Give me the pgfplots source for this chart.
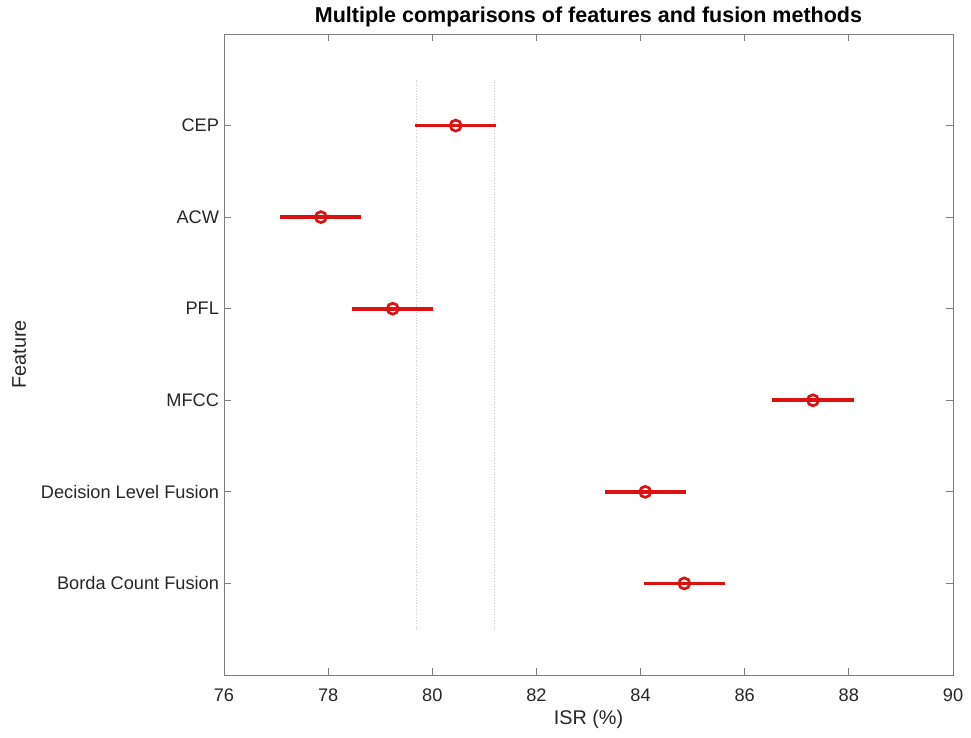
\documentclass[border=0pt]{standalone}
\usepackage{pgfplots}
\pgfplotsset{compat=1.18}
\usepackage{pgfplotstable}
\usepackage{fontspec}
\setmainfont{Liberation Sans}
\definecolor{mred}{RGB}{220,18,18}
\definecolor{axgray}{RGB}{38,38,38}
\definecolor{frame}{RGB}{125,125,125}
\pgfplotstableread{
x y e
84.84 1 0.78
84.09 2 0.78
87.31 3 0.78
79.24 4 0.78
77.86 5 0.78
80.45 6 0.78
}\groups
\begin{document}
\begin{tikzpicture}
\begin{axis}[
  scale only axis, width=729pt, height=641pt,
  at={(0pt,0pt)}, anchor=south west,
  xmin=76, xmax=90, ymin=0, ymax=7,
  xtick={76,78,...,90},
  ytick={1,...,6},
  yticklabels={Borda Count Fusion, Decision Level Fusion, MFCC, PFL, ACW, CEP},
  tick align=inside, major tick length=7pt,
  axis line style={draw=frame, line width=0.8pt},
  tick style={draw=frame, line width=0.8pt},
  /pgf/number format/assume math mode=true,
  ticklabel style={font=\fontsize{18.2}{20}\selectfont, text=axgray},
  xticklabel style={anchor=base, yshift=-27pt},
  yticklabel style={anchor=east, xshift=-1.5pt},
  title={\textbf{Multiple comparisons of features and fusion methods}},
  title style={at={(axis description cs:0.5,1)}, anchor=base, yshift=5pt, font=\fontsize{21.5}{23}\selectfont, text=black},
  xlabel={ISR (\%)},
  every axis x label/.style={at={(axis description cs:0.5,0)}, anchor=base, yshift=-49pt, font=\fontsize{19.8}{22}\selectfont, text=axgray},
  ylabel={Feature},
  every axis y label/.style={at={(axis description cs:0,0.5)}, xshift=-198pt, rotate=90, anchor=base, font=\fontsize{19.8}{22}\selectfont, text=axgray},
  clip=false,
]
\addplot[gray!45, dotted, line width=0.8pt] coordinates {(79.69,0.5) (79.69,6.5)};
\addplot[gray!45, dotted, line width=0.8pt] coordinates {(81.20,0.5) (81.20,6.5)};
\addplot[only marks, mark=o, mark size=5.5pt, mark options={draw=mred, line width=2.7pt},
  error bars/.cd, x dir=both, x explicit, error mark=none,
  error bar style={draw=mred, line width=3.8pt}]
  table[x=x, y=y, x error=e] {\groups};
\end{axis}
\pgfresetboundingbox
\path (-224pt,-63pt) rectangle (747pt,675pt);
\end{tikzpicture}
\end{document}
